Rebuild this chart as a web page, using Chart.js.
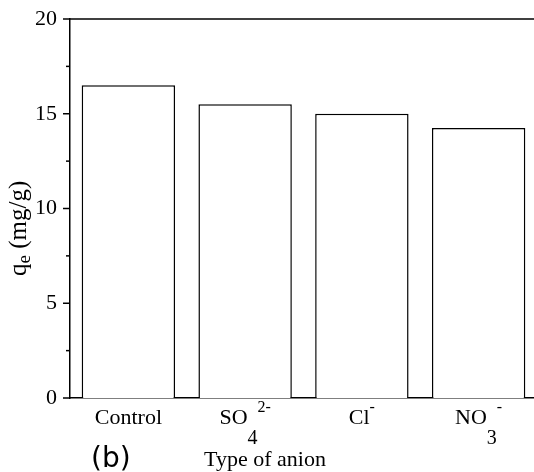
<!DOCTYPE html>
<html>
<head>
<meta charset="utf-8">
<script src="https://cdn.jsdelivr.net/npm/chart.js@4.4.0/dist/chart.umd.min.js"></script>
<style>
  html, body { margin: 0; padding: 0; background: #fff; overflow: hidden; }
  #wrap { width: 540px; height: 472px; }
</style>
</head>
<body>
<div id="wrap"><canvas id="myChart" width="540" height="472"></canvas></div>
<script>
// values (q_e in mg/g)
const categories = ['Control', 'SO\u2084\u00B2\u207B', 'Cl\u207B', 'NO\u2083\u207B'];
const qe = [16.5, 15.5, 15.0, 14.25];
const yTicks = [0, 5, 10, 15, 20];
const yMinorTicks = [2.5, 7.5, 12.5, 17.5];
// label pieces for drawing sub/superscripts: [text, 'n' | 'sub' | 'sup']
const labelParts = [
    [['Control', 'n']],
    [['SO', 'n'], ['4', 'sub'], ['2-', 'sup']],
    [['Cl', 'n'], ['-', 'sup']],
    [['NO', 'n'], ['3', 'sub'], ['-', 'sup']]
];
const xTitle = 'Type of anion';
const panelTag = '(b)';

const serif = '"Liberation Serif", "Times New Roman", serif';

const data = {
    labels: categories,
    datasets: [{
        label: 'qe',
        data: qe,
        backgroundColor: '#fff',
        borderColor: '#000',
        borderWidth: 1.5,
        barPercentage: 0.8,
        categoryPercentage: 1.0
    }]
};

const decorations = {
    id: 'decorations',
    afterDraw: (chart) => {
        const {ctx, chartArea} = chart;
        const xs = chart.scales.x;
        const ys = chart.scales.y;
        ctx.save();
        ctx.strokeStyle = '#000';
        ctx.lineWidth = 1.5;

        // top frame line
        ctx.beginPath();
        ctx.moveTo(chartArea.left, chartArea.top);
        ctx.lineTo(chart.width, chartArea.top);
        ctx.stroke();

        // y tick marks, outside
        const tick = (v, len) => {
            const py = ys.getPixelForValue(v);
            ctx.beginPath();
            ctx.moveTo(chartArea.left - len, py);
            ctx.lineTo(chartArea.left, py);
            ctx.stroke();
        };
        yTicks.forEach(v => tick(v, 7));
        yMinorTicks.forEach(v => tick(v, 4));

        // category labels with sub/superscripts
        ctx.fillStyle = '#000';
        ctx.textBaseline = 'alphabetic';
        ctx.textAlign = 'left';
        const fonts = {n: '22px ' + serif, sub: '20px ' + serif, sup: '16px ' + serif};
        const dy = {n: 0, sub: 20, sup: -12};
        const base = chartArea.bottom + 26;
        labelParts.forEach((parts, i) => {
            let w = 0;
            parts.forEach(p => { ctx.font = fonts[p[1]]; w += ctx.measureText(p[0]).width; });
            let cx = xs.getPixelForValue(i) - w / 2;
            parts.forEach(p => {
                ctx.font = fonts[p[1]];
                ctx.fillText(p[0], cx, base + dy[p[1]]);
                cx += ctx.measureText(p[0]).width;
            });
        });

        // x axis title
        ctx.font = '22px ' + serif;
        ctx.textAlign = 'center';
        ctx.fillText(xTitle, 265, 466);

        // panel tag
        ctx.font = '28px "DejaVu Sans", sans-serif';
        ctx.textAlign = 'left';
        ctx.fillText(panelTag, 91, 467);

        // y axis title, rotated
        ctx.translate(26, 276);
        ctx.rotate(-Math.PI / 2);
        let tx = 0;
        ctx.font = '25px ' + serif;
        ctx.fillText('q', tx, 0);
        tx += ctx.measureText('q').width;
        ctx.font = '19px ' + serif;
        ctx.fillText('e', tx, 4);
        tx += ctx.measureText('e').width;
        ctx.font = '25px ' + serif;
        ctx.fillText(' (mg/g)', tx, 0);
        ctx.restore();
    }
};

const config = {
    type: 'bar',
    data: data,
    options: {
        responsive: false,
        animation: false,
        layout: {padding: {top: 19, right: 3, left: 0, bottom: 0}},
        plugins: {legend: {display: false}, tooltip: {enabled: false}},
        scales: {
            x: {
                grid: {display: false, drawTicks: false},
                border: {display: true, color: '#000', width: 1.5},
                ticks: {display: false},
                afterFit: (scale) => { scale.height = 74; }
            },
            y: {
                min: 0,
                max: 20,
                grid: {display: false, drawTicks: false},
                border: {display: true, color: '#000', width: 1.5},
                ticks: {
                    stepSize: 5,
                    padding: 13,
                    color: '#000',
                    font: {family: serif, size: 22}
                },
                afterFit: (scale) => {
                    scale.width = 70;
                    scale.paddingTop = 0;
                    scale.paddingBottom = 0;
                }
            }
        }
    },
    plugins: [decorations]
};

const myChart = new Chart(
    document.getElementById('myChart'),
    config
);
</script>
</body>
</html>
